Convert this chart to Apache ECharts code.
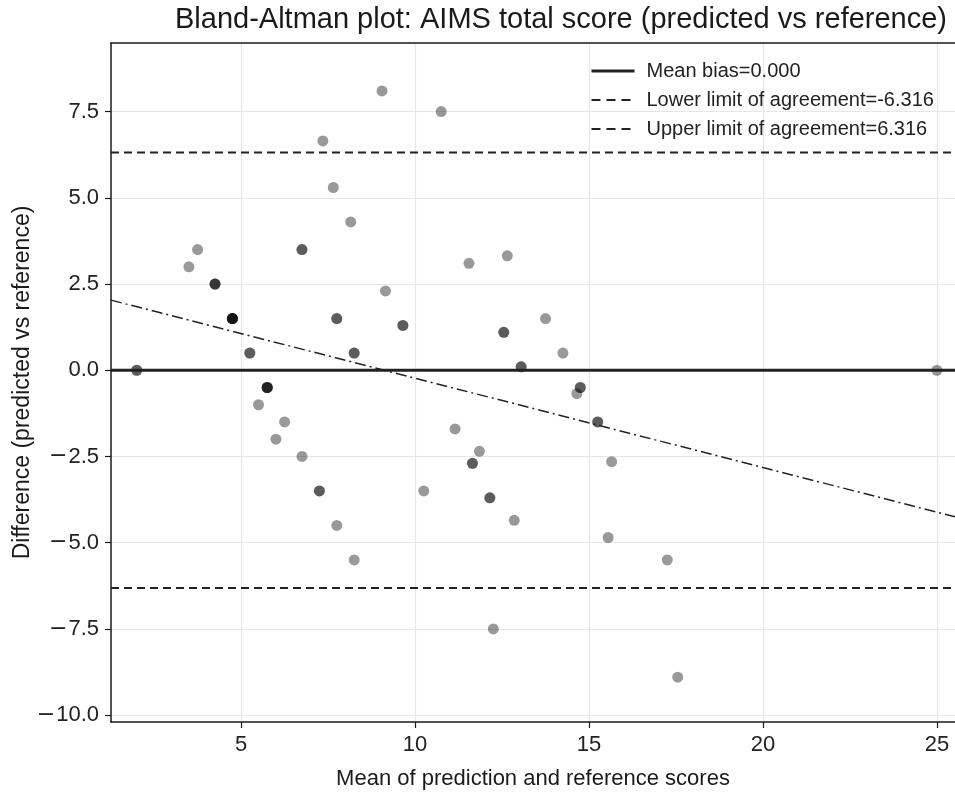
<!DOCTYPE html>
<html>
<head>
<meta charset="utf-8">
<script src="https://cdn.jsdelivr.net/npm/echarts@6/dist/echarts.min.js"></script>
<style>
html,body{margin:0;padding:0;background:#fff;}
#chart{width:955px;height:794px;}
</style>
</head>
<body>
<div id="chart"></div>
<script>
// ---- data ----
const titleText = 'Bland-Altman plot: AIMS total score (predicted vs reference)';
const xAxisName = 'Mean of prediction and reference scores';
const yAxisName = 'Difference (predicted vs reference)';

// mean of prediction & reference (x), difference (y), number of overlapping points
const pointX = [9.05, 10.75, 7.35, 7.65, 8.15, 3.75, 3.5, 9.15, 11.55, 12.65, 13.75, 14.25, 25.0, 14.65,
                5.5, 6.25, 6.0, 6.75, 7.75, 8.25, 10.25, 11.15, 11.85, 12.25, 15.65, 12.85, 15.55, 17.25, 17.55,
                2.0, 6.75, 7.75, 9.65, 5.25, 8.25, 7.25, 11.65, 12.15, 12.55, 13.05, 14.75, 15.25,
                4.25, 4.75, 5.75];
const pointY = [8.1, 7.5, 6.65, 5.3, 4.3, 3.5, 3.0, 2.3, 3.1, 3.32, 1.5, 0.5, 0.0, -0.68,
                -1.0, -1.5, -2.0, -2.5, -4.5, -5.5, -3.5, -1.7, -2.35, -7.5, -2.65, -4.35, -4.85, -5.5, -8.9,
                0.0, 3.5, 1.5, 1.3, 0.5, 0.5, -3.5, -2.7, -3.7, 1.1, 0.1, -0.5, -1.5,
                2.5, 1.5, -0.5];
const pointCount = [1,1,1,1,1,1,1,1,1,1,1,1,1,1,
                    1,1,1,1,1,1,1,1,1,1,1,1,1,1,1,
                    2,2,2,2,2,2,2,2,2,2,2,2,2,
                    3,5,4];

const meanBias = 0.000;
const lowerLoA = -6.316;
const upperLoA = 6.316;
const regIntercept = 2.36;
const regSlope = -0.259;

const xTicks = [5, 10, 15, 20, 25];
const yTicks = [-10, -7.5, -5, -2.5, 0, 2.5, 5, 7.5];
const xRange = [1.26, 25.52];
const yRange = [-10.2, 9.49];

// ---- build ----
const scatterData = [];
pointX.forEach((x, i) => { for (let k = 0; k < pointCount[i]; k++) scatterData.push([x, pointY[i]]); });
const hLine = v => [[xRange[0], v], [xRange[1], v]];
const regData = [[xRange[0], regIntercept + regSlope * xRange[0]], [xRange[1], regIntercept + regSlope * xRange[1]]];

const FONT = 'Liberation Sans, Arial, sans-serif';
const labelFmt = v => (v < 0 ? '{m|\u2212}' : '') + Math.abs(v).toFixed(1);

const legendNames = ['Mean bias=' + meanBias.toFixed(3), 'Lower limit of agreement=' + lowerLoA.toFixed(3), 'Upper limit of agreement=' + upperLoA.toFixed(3)];

const chart = echarts.init(document.getElementById('chart'), null, {renderer: 'canvas'});
chart.setOption({
  animation: false,
  backgroundColor: '#ffffff',
  title: {
    text: titleText, left: 556, top: 0, textAlign: 'center',
    textStyle: {fontFamily: FONT, fontSize: 29, fontWeight: 'normal', color: '#1a1a1a'}
  },
  legend: {
    orient: 'vertical', left: 585, top: 56, itemWidth: 43, itemHeight: 14, itemGap: 9,
    itemStyle: {opacity: 0},
    textStyle: {fontFamily: FONT, fontSize: 20, color: '#222', padding: [0, 0, 0, 7]},
    data: [
      {name: legendNames[0], lineStyle: {width: 3}},
      {name: legendNames[1], lineStyle: {width: 2, type: [9, 6]}},
      {name: legendNames[2], lineStyle: {width: 2, type: [9, 6]}}
    ]
  },
  grid: {left: 111, top: 43, right: 0, bottom: 72, containLabel: false, outerBoundsMode: 'none'},
  xAxis: [{
    type: 'value', min: xRange[0], max: xRange[1],
    name: xAxisName, nameLocation: 'middle', nameGap: 46, nameMoveOverlap: false,
    nameTextStyle: {fontFamily: FONT, fontSize: 22, color: '#1a1a1a'},
    axisLine: {show: true, onZero: false, lineStyle: {color: '#1a1a1a', width: 1.5}},
    axisTick: {show: true, length: 6, customValues: xTicks, lineStyle: {color: '#1a1a1a', width: 1.2}},
    axisLabel: {customValues: xTicks, margin: 12, fontFamily: FONT, fontSize: 22, color: '#222'},
    splitLine: {show: true, lineStyle: {color: '#e6e6e6', width: 1.2}}
  }, {
    type: 'value', position: 'top', min: xRange[0], max: xRange[1],
    axisLine: {show: true, onZero: false, lineStyle: {color: '#1a1a1a', width: 1.5}},
    axisTick: {show: false}, axisLabel: {show: false}, splitLine: {show: false}
  }],
  yAxis: {
    type: 'value', min: yRange[0], max: yRange[1],
    name: yAxisName, nameLocation: 'middle', nameGap: 77, nameRotate: 90, nameMoveOverlap: false,
    nameTextStyle: {fontFamily: FONT, fontSize: 23, color: '#1a1a1a'},
    axisLine: {show: true, onZero: false, lineStyle: {color: '#1a1a1a', width: 1.5}},
    axisTick: {show: true, length: 6, customValues: yTicks, lineStyle: {color: '#1a1a1a', width: 1.2}},
    axisLabel: {
      customValues: yTicks, margin: 12, fontFamily: FONT, fontSize: 22, color: '#222', formatter: labelFmt,
      rich: {m: {fontFamily: 'DejaVu Sans', fontSize: 22, color: '#222', padding: [0, 1, 0, 0]}}
    },
    splitLine: {show: true, lineStyle: {color: '#e6e6e6', width: 1.2}}
  },
  series: [{
    type: 'scatter', data: scatterData, symbolSize: 11, z: 2,
    itemStyle: {color: '#000', opacity: 0.4}
  }, {
    name: legendNames[0], type: 'line', data: hLine(meanBias), symbol: 'none', z: 4,
    itemStyle: {color: '#222'},
    lineStyle: {color: '#222', width: 3, type: 'solid'}
  }, {
    name: legendNames[1], type: 'line', data: hLine(lowerLoA), symbol: 'none', z: 4,
    itemStyle: {color: '#222'},
    lineStyle: {color: '#222', width: 2, type: [8, 5]}
  }, {
    name: legendNames[2], type: 'line', data: hLine(upperLoA), symbol: 'none', z: 4,
    itemStyle: {color: '#222'},
    lineStyle: {color: '#222', width: 2, type: [8, 5]}
  }, {
    name: 'regression', type: 'line', data: regData, symbol: 'none', z: 4,
    itemStyle: {color: '#222'},
    lineStyle: {color: '#222', width: 1.5, type: [11, 4, 2, 4]}
  }]
});
</script>
</body>
</html>
